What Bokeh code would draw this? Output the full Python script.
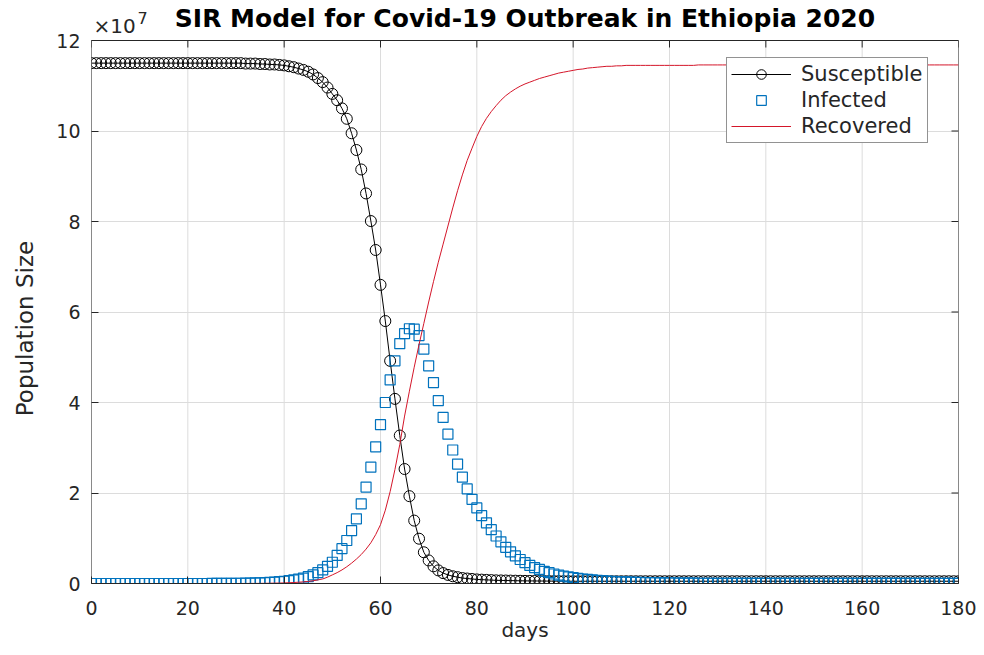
from bokeh.plotting import figure
from bokeh.models import (ColumnDataSource, FixedTicker, Legend, LegendItem,
                          Label, Range1d, Span)
from bokeh.embed import file_html
from bokeh.resources import INLINE

# ---------------- data (population in units of 1e7) ----------------
days = list(range(0, 181))

susceptible = [
    11.50, 11.50, 11.50, 11.50, 11.50, 11.50, 11.50, 11.50, 11.50, 11.50,
    11.50, 11.50, 11.50, 11.50, 11.50, 11.50, 11.50, 11.50, 11.50, 11.50,
    11.50, 11.50, 11.50, 11.50, 11.50, 11.50, 11.50, 11.50, 11.50, 11.50,
    11.50, 11.50, 11.49, 11.49, 11.49, 11.48, 11.48, 11.47, 11.47, 11.46,
    11.45, 11.43, 11.41, 11.38, 11.35, 11.31, 11.25, 11.17, 11.08, 10.96,
    10.82, 10.68, 10.50, 10.27, 9.95, 9.58, 9.15, 8.62, 8.01, 7.37,
    6.60, 5.80, 4.92, 4.08, 3.27, 2.53, 1.93, 1.39, 0.99, 0.69,
    0.51, 0.38, 0.29, 0.23, 0.19, 0.16, 0.14, 0.12, 0.11, 0.10,
    0.090, 0.085, 0.080, 0.075, 0.070, 0.068, 0.066, 0.064, 0.062, 0.060,
    0.058, 0.057, 0.056, 0.055, 0.054, 0.053, 0.052, 0.052, 0.051, 0.051,
    0.050, 0.050, 0.050, 0.050, 0.050, 0.050, 0.050, 0.050, 0.050, 0.050,
    0.050, 0.050, 0.050, 0.050, 0.050, 0.050, 0.050, 0.050, 0.050, 0.050,
    0.050, 0.050, 0.050, 0.050, 0.050, 0.050, 0.050, 0.050, 0.050, 0.050,
    0.050, 0.050, 0.050, 0.050, 0.050, 0.050, 0.050, 0.050, 0.050, 0.050,
    0.050, 0.050, 0.050, 0.050, 0.050, 0.050, 0.050, 0.050, 0.050, 0.050,
    0.050, 0.050, 0.050, 0.050, 0.050, 0.050, 0.050, 0.050, 0.050, 0.050,
    0.050, 0.050, 0.050, 0.050, 0.050, 0.050, 0.050, 0.050, 0.050, 0.050,
    0.050, 0.050, 0.050, 0.050, 0.050, 0.050, 0.050, 0.050, 0.050, 0.050,
    0.050,
]

infected = [
    0.000, 0.000, 0.000, 0.000, 0.000, 0.000, 0.000, 0.000, 0.000, 0.000,
    0.000, 0.000, 0.000, 0.000, 0.000, 0.000, 0.000, 0.000, 0.000, 0.000,
    0.000, 0.000, 0.000, 0.000, 0.000, 0.001, 0.002, 0.002, 0.003, 0.004,
    0.005, 0.006, 0.008, 0.010, 0.013, 0.016, 0.020, 0.025, 0.032, 0.040,
    0.050, 0.062, 0.078, 0.097, 0.120, 0.150, 0.190, 0.240, 0.300, 0.380,
    0.47, 0.62, 0.77, 0.95, 1.17, 1.43, 1.76, 2.13, 2.57, 3.02,
    3.51, 4.00, 4.50, 4.92, 5.30, 5.52, 5.63, 5.62, 5.48, 5.18,
    4.81, 4.44, 4.04, 3.67, 3.30, 2.95, 2.64, 2.35, 2.09, 1.86,
    1.67, 1.50, 1.34, 1.19, 1.05, 0.92, 0.80, 0.70, 0.61, 0.53,
    0.46, 0.40, 0.35, 0.31, 0.27, 0.24, 0.21, 0.185, 0.165, 0.145,
    0.130, 0.115, 0.100, 0.090, 0.080, 0.070, 0.062, 0.055, 0.049, 0.043,
    0.038, 0.034, 0.030, 0.027, 0.024, 0.021, 0.019, 0.017, 0.015, 0.013,
    0.012, 0.011, 0.010, 0.009, 0.008, 0.007, 0.006, 0.006, 0.005, 0.005,
    0.004, 0.004, 0.003, 0.003, 0.003, 0.002, 0.002, 0.002, 0.002, 0.002,
    0.002, 0.002, 0.002, 0.002, 0.002, 0.002, 0.001, 0.001, 0.001, 0.001,
    0.001, 0.001, 0.001, 0.001, 0.001, 0.001, 0.001, 0.001, 0.001, 0.001,
    0.001, 0.001, 0.001, 0.001, 0.001, 0.001, 0.001, 0.001, 0.001, 0.001,
    0.001, 0.001, 0.001, 0.001, 0.001, 0.001, 0.001, 0.001, 0.001, 0.001,
    0.001,
]

recovered = [
    0.000, 0.000, 0.000, 0.000, 0.000, 0.000, 0.000, 0.000, 0.000, 0.000,
    0.000, 0.000, 0.000, 0.000, 0.000, 0.000, 0.000, 0.000, 0.000, 0.000,
    0.000, 0.000, 0.000, 0.000, 0.000, 0.000, 0.000, 0.000, 0.000, 0.000,
    0.000, 0.001, 0.001, 0.002, 0.002, 0.003, 0.004, 0.006, 0.008, 0.010,
    0.013, 0.017, 0.022, 0.028, 0.036, 0.046, 0.060, 0.080, 0.100, 0.140,
    0.19, 0.24, 0.30, 0.37, 0.45, 0.54, 0.64, 0.76, 0.90, 1.08,
    1.30, 1.62, 2.03, 2.52, 3.07, 3.70, 4.25, 4.78, 5.28, 5.75,
    6.22, 6.67, 7.10, 7.50, 7.90, 8.30, 8.68, 9.03, 9.35, 9.62,
    9.88, 10.10, 10.28, 10.43, 10.56, 10.68, 10.78, 10.86, 10.93, 10.99,
    11.04, 11.08, 11.12, 11.16, 11.19, 11.22, 11.25, 11.28, 11.30, 11.32,
    11.34, 11.36, 11.37, 11.39, 11.40, 11.41, 11.42, 11.43, 11.43, 11.44,
    11.44, 11.45, 11.45, 11.45, 11.45, 11.45, 11.45, 11.45, 11.45, 11.45,
    11.45, 11.45, 11.45, 11.45, 11.45, 11.45, 11.46, 11.46, 11.46, 11.46,
    11.46, 11.46, 11.46, 11.46, 11.46, 11.46, 11.46, 11.46, 11.46, 11.46,
    11.46, 11.46, 11.46, 11.46, 11.46, 11.46, 11.46, 11.46, 11.46, 11.46,
    11.46, 11.46, 11.46, 11.46, 11.46, 11.46, 11.46, 11.46, 11.46, 11.46,
    11.46, 11.46, 11.46, 11.46, 11.46, 11.46, 11.46, 11.46, 11.46, 11.46,
    11.46, 11.46, 11.46, 11.46, 11.46, 11.46, 11.46, 11.46, 11.46, 11.46,
    11.46,
]

x_ticks = [0, 20, 40, 60, 80, 100, 120, 140, 160, 180]
y_ticks = [0, 2, 4, 6, 8, 10, 12]

title_text = "SIR Model for Covid-19 Outbreak in Ethiopia 2020"
series_labels = ["Susceptible", "Infected", "Recovered"]

# ---------------- layout constants ----------------
FONT = "DejaVu Sans"
AX = "#262626"
GRID = "#dcdcdc"
W, H = 976, 647
LEFT, RIGHT, BOTTOM = 91, 18, 64
FRAME_W = W - LEFT - RIGHT          # 867 px for 0..180
FRAME_H = H - BOTTOM                # 583 px, frame starts at canvas top
TOP_GAP = 40                        # px between canvas top and the y=12 box edge
XMAX = x_ticks[-1]
YMAX = y_ticks[-1]
py = (FRAME_H - TOP_GAP) / YMAX     # px per y unit
px = FRAME_W / XMAX                 # px per x unit
y_top = YMAX + TOP_GAP / py         # range extended so the title sits inside the frame
TICK = 7

src = ColumnDataSource(dict(day=days, S=susceptible, I=infected, R=recovered))

p = figure(width=W, height=H, output_backend="svg", toolbar_location=None,
           x_range=Range1d(0, XMAX), y_range=Range1d(0, y_top))
p.min_border_left = LEFT
p.min_border_right = RIGHT
p.min_border_top = 0
p.min_border_bottom = BOTTOM
p.background_fill_color = "white"
p.border_fill_color = "white"
p.outline_line_color = None

for ax, ticks in ((p.xaxis[0], x_ticks), (p.yaxis[0], y_ticks)):
    ax.ticker = FixedTicker(ticks=ticks)
    ax.axis_line_color = AX
    ax.major_tick_line_color = AX
    ax.major_tick_in = TICK
    ax.major_tick_out = 0
    ax.minor_tick_line_color = None
    ax.major_label_text_font = FONT
    ax.major_label_text_font_size = "19px"
    ax.major_label_text_color = AX
    ax.axis_label_text_font = FONT
    ax.axis_label_text_font_style = "normal"
    ax.axis_label_text_color = AX

p.yaxis.axis_line_color = None       # drawn below only up to the box top

p.xaxis.axis_label = "days"
p.xaxis.axis_label_text_font_size = "20px"
p.xaxis.major_label_standoff = 17
p.xaxis.axis_label_standoff = 0
p.yaxis.axis_label = "Population Size" + "\u00a0" * 10
p.yaxis.axis_label_text_font_size = "23px"
p.yaxis.major_label_standoff = 11
p.yaxis.axis_label_standoff = 15

# grid: horizontal via Bokeh grid, vertical lines limited to the box
p.ygrid.ticker = FixedTicker(ticks=y_ticks)
p.ygrid.grid_line_color = GRID
p.xgrid.visible = False
p.segment(x0=x_ticks, y0=[0] * len(x_ticks), x1=x_ticks, y1=[YMAX] * len(x_ticks),
          line_color=GRID, line_width=1, level="underlay")

# axes box (left, right, top) and inward ticks on top and right
p.segment(x0=[0, XMAX], y0=[0, 0], x1=[0, XMAX], y1=[YMAX, YMAX],
          line_color=AX, line_width=1)
p.add_layout(Span(location=YMAX, dimension="width", line_color=AX, line_width=1))
p.segment(x0=x_ticks, y0=[YMAX] * len(x_ticks), x1=x_ticks,
          y1=[YMAX - TICK / py] * len(x_ticks), line_color=AX, line_width=1)
p.segment(x0=[XMAX] * len(y_ticks), y0=y_ticks, x1=[XMAX - TICK / px] * len(y_ticks),
          y1=y_ticks, line_color=AX, line_width=1)

# data
s_line = p.line("day", "S", source=src, line_color="black", line_width=1)
s_mark = p.scatter("day", "S", source=src, marker="circle", size=11,
                   fill_color=None, line_color="black", line_width=1)
i_mark = p.scatter("day", "I", source=src, marker="square", size=10,
                   fill_color=None, line_color="#0072BD", line_width=1.2)
r_line = p.line("day", "R", source=src, line_color="#d4162a", line_width=1)

legend = Legend(items=[
    LegendItem(label=series_labels[0], renderers=[s_line, s_mark]),
    LegendItem(label=series_labels[1], renderers=[i_mark]),
    LegendItem(label=series_labels[2], renderers=[r_line]),
], location=(635, 440))
legend.border_line_color = AX
legend.border_line_width = 1
legend.background_fill_color = "white"
legend.background_fill_alpha = 1
legend.label_text_font = FONT
legend.label_text_font_size = "21px"
legend.label_text_color = AX
legend.glyph_width = 60
legend.glyph_height = 24
legend.label_height = 24
legend.spacing = 2
legend.padding = 4
legend.margin = 0
legend.label_standoff = 10
p.add_layout(legend)

# title and exponent label (inside the frame, above the box)
p.add_layout(Label(x=XMAX / 2, y=YMAX + 22 / py, text=title_text, text_align="center",
                   text_baseline="middle", text_font=FONT, text_font_size="25px",
                   text_font_style="bold", text_color="black"))
p.add_layout(Label(x=2 / px, y=YMAX + 15 / py, text="\u00d710", text_align="left",
                   text_baseline="middle", text_font=FONT, text_font_size="20px",
                   text_color=AX))
p.add_layout(Label(x=46 / px, y=YMAX + 23 / py, text="7", text_align="left",
                   text_baseline="middle", text_font=FONT, text_font_size="16px",
                   text_color=AX))

open("out.html", "w").write(file_html(p, INLINE))
